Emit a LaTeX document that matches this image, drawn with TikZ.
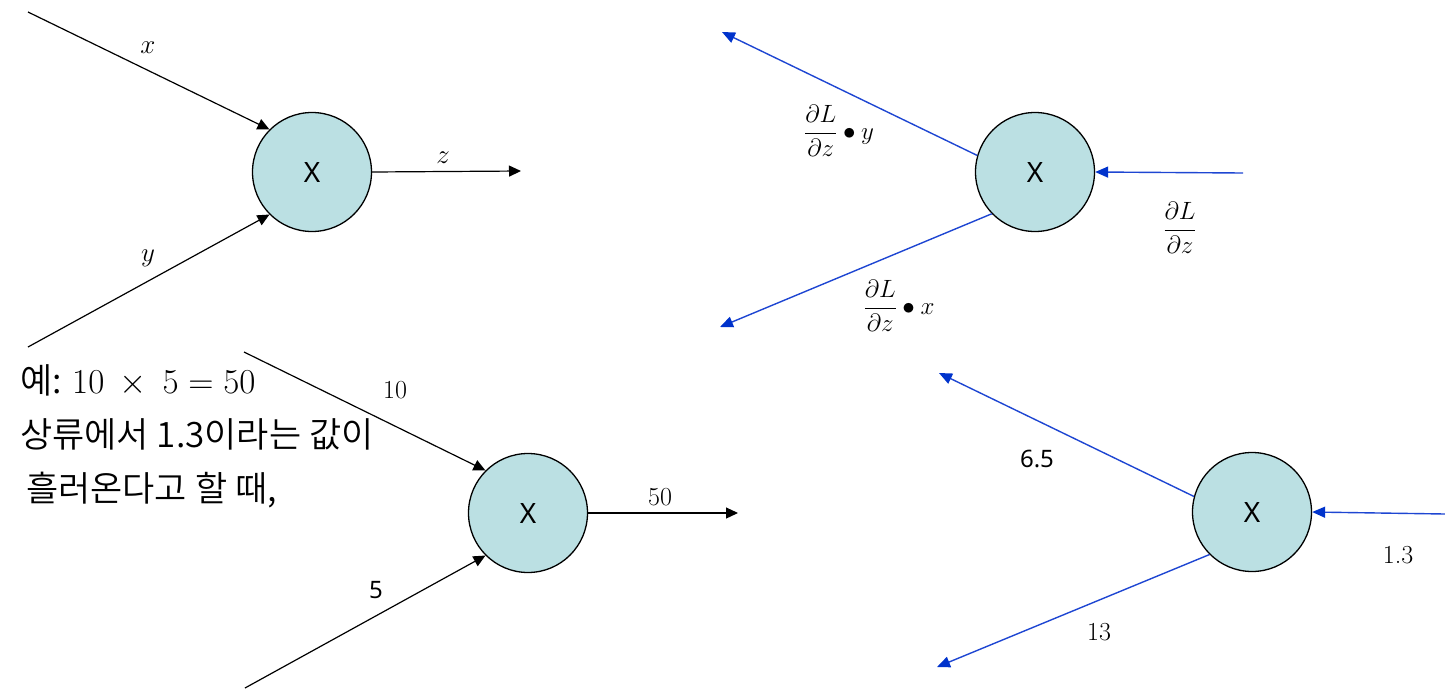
\RequirePackage{fix-cm}
\documentclass[tikz,border=0pt]{standalone}
\usepackage{fontspec}
\newfontfamily\cjk{Noto Sans CJK KR DemiLight}
\newfontfamily\sansf{Noto Sans}
\usetikzlibrary{arrows.meta}
\definecolor{nodefill}{RGB}{187,224,227}
\definecolor{bblue}{RGB}{30,70,210}
\definecolor{bhead}{RGB}{0,51,204}
\begin{document}
\begin{tikzpicture}[x=1pt,y=-1pt,
  mulnode/.style={circle,draw=black,line width=1.3pt,fill=nodefill,minimum size=119pt,inner sep=0pt,font=\sansf\fontsize{28}{30}\selectfont},
  fwd/.style={draw=black,line width=1.2pt,-{Triangle[length=12pt,width=11pt]}},
  bwd/.style={draw=bblue,line width=1.4pt,-{Triangle[length=13pt,width=11pt,fill=bhead,color=bhead]}},
  lbl/.style={font=\fontsize{27}{29}\selectfont,inner sep=0pt},
  flbl/.style={font=\fontsize{25}{28}\selectfont,inner sep=0pt},
  numlbl/.style={font=\fontsize{26}{28}\selectfont,inner sep=0pt},
  snum/.style={font=\sansf\fontsize{24}{26}\selectfont,inner sep=0pt},
  ktext/.style={font=\cjk\fontsize{35}{38}\selectfont,inner sep=0pt,anchor=base west}]
\useasboundingbox (0,0) rectangle (1445,697);

% top-left forward
\node[mulnode] (n1) at (312,172) {X};
\coordinate (a1) at (28,12);
\coordinate (b1) at (28,347);
\coordinate (c1) at (521,171);
\draw[fwd] (a1) -- (n1.135);
\draw[fwd] (b1) -- (n1.225);
\draw[fwd] (n1.east) -- (c1);
\node[lbl] (lx) at (148,48) {$x$};
\node[lbl] (ly) at (148,258) {$y$};
\node[lbl] (lz) at (443,158) {$z$};

% top-right backward
\node[mulnode] (n2) at (1035,172) {X};
\coordinate (a2) at (722,32);
\coordinate (b2) at (720,327);
\coordinate (c2) at (1243,173);
\draw[bwd] (n2.164) -- (a2);
\draw[bwd] (n2.224) -- (b2);
\draw[bwd] (c2) -- (n2.east);
\node[flbl] (g1) at (839,131) {$\displaystyle\frac{\partial L}{\partial z}\bullet y$};
\node[flbl] (g2) at (899,306) {$\displaystyle\frac{\partial L}{\partial z}\bullet x$};
\node[flbl] (g3) at (1180,228) {$\displaystyle\frac{\partial L}{\partial z}$};

% bottom-left forward example
\node[mulnode] (n3) at (528,513) {X};
\coordinate (a3) at (244,352);
\coordinate (b3) at (245,688);
\coordinate (c3) at (738,513);
\draw[fwd] (a3) -- (n3.135);
\draw[fwd] (b3) -- (n3.225);
\draw[fwd] (n3.east) -- (c3);
\node[numlbl] (l10) at (395,390) {10};
\node[snum] (l5) at (376,590) {5};
\node[numlbl] (l50) at (660,497) {50};

% bottom-right backward example
\node[mulnode] (n4) at (1252,512) {X};
\coordinate (a4) at (939,373);
\coordinate (b4) at (937,667);
\coordinate (c4) at (1445,514);
\draw[bwd] (n4.165) -- (a4);
\draw[bwd] (n4.225) -- (b4);
\draw[bwd] (c4) -- (n4.east);
\node[snum] (l65) at (1037,459) {6.5};
\node[numlbl] (l13) at (1099,632) {13};
\node[numlbl] (l13b) at (1398,555) {1.3};

% text
\node[ktext] (t1) at (20,393) {예: $10\ \times\ 5 = 50$};
\node[ktext] (t2) at (20,447) {상류에서 1.3이라는 값이};
\node[ktext] (t3) at (26,501) {흘러온다고 할 때,};
\end{tikzpicture}
\end{document}
